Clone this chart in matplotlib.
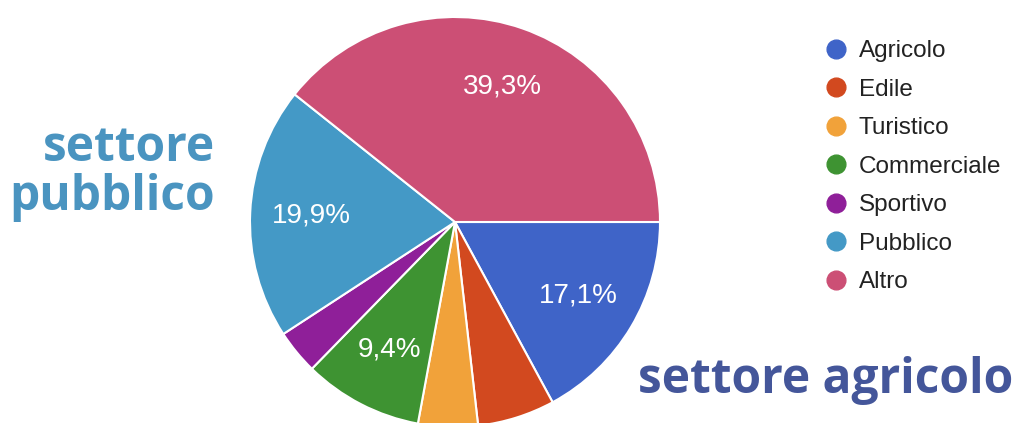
import numpy as np
import matplotlib.pyplot as plt
from matplotlib.lines import Line2D

# Data
sectors = ["Agricolo", "Edile", "Turistico", "Commerciale", "Sportivo", "Pubblico", "Altro"]
shares = [17.1, 6.1, 4.7, 9.4, 3.5, 19.9, 39.3]
colors = ["#3f64c8", "#d2491f", "#f1a23a", "#3e9332", "#8f1f99", "#4499c6", "#cc4f75"]

W, H = 1024, 423
fig = plt.figure(figsize=(W / 100, H / 100), dpi=100)

# pie: centre (455, 222) px from top-left, radius 205 px
cx, cy, r = 455, 222, 205
ax = fig.add_axes([(cx - r) / W, (H - cy - r) / H, 2 * r / W, 2 * r / H])

def pct_label(p):
    # small slices get no label
    return f"{p:.1f}%".replace(".", ",") if p >= 8 else ""

wedges, texts, autotexts = ax.pie(
    shares, colors=colors, startangle=0, counterclock=False,
    autopct=pct_label, pctdistance=0.7,
    wedgeprops=dict(edgecolor="white", linewidth=1.5),
    textprops=dict(color="white", fontsize=20, family="Liberation Sans"),
)
ax.set_xlim(-1, 1)
ax.set_ylim(-1, 1)
ax.set_aspect("equal")
ax.axis("off")

# Legend
handles = [Line2D([0], [0], marker="o", linestyle="", markersize=13.5,
                  markerfacecolor=c, markeredgecolor=c) for c in colors]
fig.legend(handles, sectors, loc="upper left", bbox_to_anchor=(827 / W, 1 - 40 / H),
           frameon=False, handlelength=0.75, handletextpad=0.55, labelspacing=0.68,
           prop=dict(family="Liberation Sans", size=17.5), labelcolor="#222222",
           borderpad=0, borderaxespad=0)

# Annotations
fig.text(215 / W, 1 - 210 / H, "settore\npubblico", ha="right", va="baseline",
         fontsize=34.5, fontweight="bold", family="Open Sans", color="#4a94c0",
         linespacing=1.0)
fig.text(638 / W, 1 - 393 / H, "settore agricolo", ha="left", va="baseline",
         fontsize=34.5, fontweight="bold", family="Open Sans", color="#44569a")

fig.savefig("out.png", dpi=100)
